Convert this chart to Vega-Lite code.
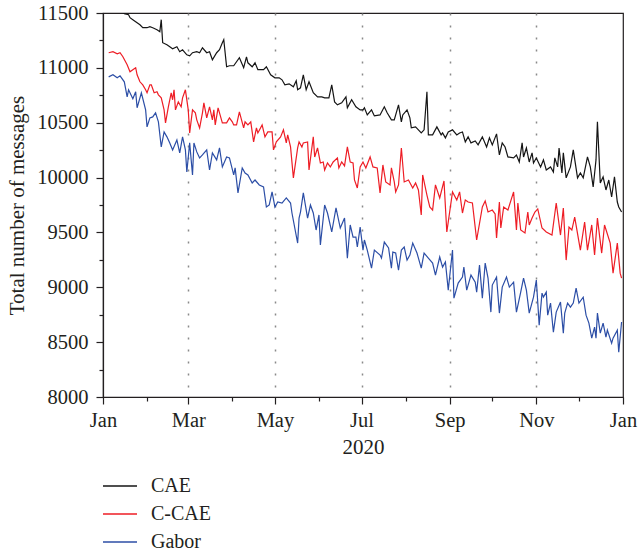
{
  "$schema": "https://vega.github.io/schema/vega-lite/v6.json",
  "autosize": "none",
  "width": 520,
  "height": 384,
  "padding": {"left": 103, "top": 13, "right": 15, "bottom": 155},
  "background": "white",
  "config": {
    "font": "Liberation Serif",
    "view": {"stroke": "#231f20", "strokeWidth": 1.2},
    "axis": {
      "domainColor": "#231f20",
      "tickColor": "#231f20",
      "labelColor": "#231f20",
      "titleColor": "#231f20",
      "labelFont": "Liberation Serif",
      "titleFont": "Liberation Serif",
      "titleFontWeight": "normal",
      "labelFontSize": 20.5,
      "titleFontSize": 21,
      "tickWidth": 1.2,
      "domainWidth": 1.2
    },
    "legend": {"labelFont": "Liberation Serif", "labelColor": "#231f20"}
  },
  "data": {
    "values": [
      {"series":"CAE","date":"2020-01-04","value":11620},{"series":"CAE","date":"2020-01-07","value":11590},{"series":"CAE","date":"2020-01-10","value":11560},{"series":"CAE","date":"2020-01-13","value":11530},{"series":"CAE","date":"2020-01-16","value":11494},{"series":"CAE","date":"2020-01-19","value":11484},{"series":"CAE","date":"2020-01-20","value":11457},{"series":"CAE","date":"2020-01-22","value":11439},{"series":"CAE","date":"2020-01-25","value":11411},{"series":"CAE","date":"2020-01-27","value":11393},{"series":"CAE","date":"2020-01-29","value":11366},{"series":"CAE","date":"2020-02-01","value":11366},{"series":"CAE","date":"2020-02-03","value":11375},{"series":"CAE","date":"2020-02-05","value":11366},{"series":"CAE","date":"2020-02-08","value":11348},{"series":"CAE","date":"2020-02-10","value":11330},{"series":"CAE","date":"2020-02-11","value":11439},{"series":"CAE","date":"2020-02-12","value":11229},{"series":"CAE","date":"2020-02-15","value":11210},{"series":"CAE","date":"2020-02-17","value":11192},{"series":"CAE","date":"2020-02-19","value":11174},{"series":"CAE","date":"2020-02-22","value":11192},{"series":"CAE","date":"2020-02-24","value":11147},{"series":"CAE","date":"2020-02-26","value":11165},{"series":"CAE","date":"2020-02-29","value":11119},{"series":"CAE","date":"2020-03-02","value":11110},{"series":"CAE","date":"2020-03-04","value":11138},{"series":"CAE","date":"2020-03-07","value":11147},{"series":"CAE","date":"2020-03-09","value":11138},{"series":"CAE","date":"2020-03-11","value":11183},{"series":"CAE","date":"2020-03-14","value":11138},{"series":"CAE","date":"2020-03-16","value":11147},{"series":"CAE","date":"2020-03-18","value":11074},{"series":"CAE","date":"2020-03-21","value":11138},{"series":"CAE","date":"2020-03-23","value":11165},{"series":"CAE","date":"2020-03-25","value":11229},{"series":"CAE","date":"2020-03-26","value":11256},{"series":"CAE","date":"2020-03-28","value":11010},{"series":"CAE","date":"2020-03-30","value":11019},{"series":"CAE","date":"2020-04-02","value":11019},{"series":"CAE","date":"2020-04-06","value":11092},{"series":"CAE","date":"2020-04-09","value":11001},{"series":"CAE","date":"2020-04-11","value":11101},{"series":"CAE","date":"2020-04-12","value":11046},{"series":"CAE","date":"2020-04-15","value":11010},{"series":"CAE","date":"2020-04-17","value":11046},{"series":"CAE","date":"2020-04-19","value":10983},{"series":"CAE","date":"2020-04-23","value":10983},{"series":"CAE","date":"2020-04-25","value":11010},{"series":"CAE","date":"2020-04-28","value":10937},{"series":"CAE","date":"2020-05-01","value":10909},{"series":"CAE","date":"2020-05-04","value":10909},{"series":"CAE","date":"2020-05-06","value":10891},{"series":"CAE","date":"2020-05-08","value":10845},{"series":"CAE","date":"2020-05-11","value":10854},{"series":"CAE","date":"2020-05-14","value":10827},{"series":"CAE","date":"2020-05-16","value":10882},{"series":"CAE","date":"2020-05-17","value":10800},{"series":"CAE","date":"2020-05-19","value":10818},{"series":"CAE","date":"2020-05-21","value":10937},{"series":"CAE","date":"2020-05-23","value":10800},{"series":"CAE","date":"2020-05-25","value":10873},{"series":"CAE","date":"2020-05-28","value":10773},{"series":"CAE","date":"2020-05-31","value":10736},{"series":"CAE","date":"2020-06-03","value":10736},{"series":"CAE","date":"2020-06-05","value":10727},{"series":"CAE","date":"2020-06-08","value":10727},{"series":"CAE","date":"2020-06-10","value":10845},{"series":"CAE","date":"2020-06-12","value":10690},{"series":"CAE","date":"2020-06-14","value":10663},{"series":"CAE","date":"2020-06-17","value":10681},{"series":"CAE","date":"2020-06-20","value":10736},{"series":"CAE","date":"2020-06-21","value":10636},{"series":"CAE","date":"2020-06-24","value":10709},{"series":"CAE","date":"2020-06-27","value":10645},{"series":"CAE","date":"2020-06-30","value":10617},{"series":"CAE","date":"2020-07-02","value":10617},{"series":"CAE","date":"2020-07-03","value":10636},{"series":"CAE","date":"2020-07-05","value":10571},{"series":"CAE","date":"2020-07-08","value":10617},{"series":"CAE","date":"2020-07-10","value":10562},{"series":"CAE","date":"2020-07-14","value":10571},{"series":"CAE","date":"2020-07-17","value":10645},{"series":"CAE","date":"2020-07-19","value":10590},{"series":"CAE","date":"2020-07-22","value":10526},{"series":"CAE","date":"2020-07-24","value":10526},{"series":"CAE","date":"2020-07-27","value":10663},{"series":"CAE","date":"2020-07-29","value":10508},{"series":"CAE","date":"2020-07-30","value":10571},{"series":"CAE","date":"2020-08-02","value":10617},{"series":"CAE","date":"2020-08-04","value":10544},{"series":"CAE","date":"2020-08-05","value":10453},{"series":"CAE","date":"2020-08-08","value":10462},{"series":"CAE","date":"2020-08-10","value":10435},{"series":"CAE","date":"2020-08-12","value":10407},{"series":"CAE","date":"2020-08-14","value":10435},{"series":"CAE","date":"2020-08-16","value":10782},{"series":"CAE","date":"2020-08-17","value":10389},{"series":"CAE","date":"2020-08-20","value":10389},{"series":"CAE","date":"2020-08-23","value":10462},{"series":"CAE","date":"2020-08-26","value":10389},{"series":"CAE","date":"2020-08-27","value":10407},{"series":"CAE","date":"2020-08-29","value":10362},{"series":"CAE","date":"2020-08-31","value":10416},{"series":"CAE","date":"2020-09-03","value":10435},{"series":"CAE","date":"2020-09-06","value":10389},{"series":"CAE","date":"2020-09-08","value":10407},{"series":"CAE","date":"2020-09-10","value":10416},{"series":"CAE","date":"2020-09-12","value":10325},{"series":"CAE","date":"2020-09-14","value":10371},{"series":"CAE","date":"2020-09-16","value":10316},{"series":"CAE","date":"2020-09-19","value":10334},{"series":"CAE","date":"2020-09-21","value":10298},{"series":"CAE","date":"2020-09-24","value":10371},{"series":"CAE","date":"2020-09-27","value":10279},{"series":"CAE","date":"2020-09-29","value":10362},{"series":"CAE","date":"2020-10-01","value":10298},{"series":"CAE","date":"2020-10-04","value":10398},{"series":"CAE","date":"2020-10-06","value":10206},{"series":"CAE","date":"2020-10-08","value":10316},{"series":"CAE","date":"2020-10-10","value":10279},{"series":"CAE","date":"2020-10-12","value":10188},{"series":"CAE","date":"2020-10-16","value":10179},{"series":"CAE","date":"2020-10-18","value":10206},{"series":"CAE","date":"2020-10-20","value":10142},{"series":"CAE","date":"2020-10-22","value":10316},{"series":"CAE","date":"2020-10-23","value":10188},{"series":"CAE","date":"2020-10-25","value":10270},{"series":"CAE","date":"2020-10-27","value":10142},{"series":"CAE","date":"2020-10-29","value":10225},{"series":"CAE","date":"2020-10-30","value":10133},{"series":"CAE","date":"2020-11-01","value":10179},{"series":"CAE","date":"2020-11-04","value":10097},{"series":"CAE","date":"2020-11-06","value":10161},{"series":"CAE","date":"2020-11-08","value":10069},{"series":"CAE","date":"2020-11-11","value":10097},{"series":"CAE","date":"2020-11-13","value":10051},{"series":"CAE","date":"2020-11-14","value":10179},{"series":"CAE","date":"2020-11-16","value":10097},{"series":"CAE","date":"2020-11-17","value":10270},{"series":"CAE","date":"2020-11-19","value":10042},{"series":"CAE","date":"2020-11-20","value":10225},{"series":"CAE","date":"2020-11-22","value":9997},{"series":"CAE","date":"2020-11-25","value":10097},{"series":"CAE","date":"2020-11-27","value":10252},{"series":"CAE","date":"2020-11-30","value":9997},{"series":"CAE","date":"2020-12-02","value":10042},{"series":"CAE","date":"2020-12-04","value":9997},{"series":"CAE","date":"2020-12-07","value":10188},{"series":"CAE","date":"2020-12-09","value":10097},{"series":"CAE","date":"2020-12-11","value":9914},{"series":"CAE","date":"2020-12-13","value":10161},{"series":"CAE","date":"2020-12-14","value":10508},{"series":"CAE","date":"2020-12-16","value":9951},{"series":"CAE","date":"2020-12-18","value":10006},{"series":"CAE","date":"2020-12-20","value":9887},{"series":"CAE","date":"2020-12-22","value":9978},{"series":"CAE","date":"2020-12-24","value":9823},{"series":"CAE","date":"2020-12-26","value":10006},{"series":"CAE","date":"2020-12-28","value":9777},{"series":"CAE","date":"2020-12-29","value":9732},{"series":"CAE","date":"2020-12-31","value":9686},
      {"series":"C-CAE","date":"2020-01-05","value":11138},{"series":"C-CAE","date":"2020-01-08","value":11147},{"series":"C-CAE","date":"2020-01-11","value":11128},{"series":"C-CAE","date":"2020-01-13","value":11138},{"series":"C-CAE","date":"2020-01-15","value":11101},{"series":"C-CAE","date":"2020-01-18","value":11028},{"series":"C-CAE","date":"2020-01-20","value":10964},{"series":"C-CAE","date":"2020-01-22","value":10983},{"series":"C-CAE","date":"2020-01-24","value":11001},{"series":"C-CAE","date":"2020-01-25","value":10937},{"series":"C-CAE","date":"2020-01-27","value":10873},{"series":"C-CAE","date":"2020-01-29","value":10845},{"series":"C-CAE","date":"2020-01-31","value":10800},{"series":"C-CAE","date":"2020-02-01","value":10773},{"series":"C-CAE","date":"2020-02-03","value":10845},{"series":"C-CAE","date":"2020-02-04","value":10845},{"series":"C-CAE","date":"2020-02-06","value":10773},{"series":"C-CAE","date":"2020-02-08","value":10782},{"series":"C-CAE","date":"2020-02-09","value":10754},{"series":"C-CAE","date":"2020-02-11","value":10727},{"series":"C-CAE","date":"2020-02-13","value":10617},{"series":"C-CAE","date":"2020-02-14","value":10499},{"series":"C-CAE","date":"2020-02-16","value":10645},{"series":"C-CAE","date":"2020-02-18","value":10773},{"series":"C-CAE","date":"2020-02-19","value":10709},{"series":"C-CAE","date":"2020-02-20","value":10800},{"series":"C-CAE","date":"2020-02-21","value":10617},{"series":"C-CAE","date":"2020-02-23","value":10690},{"series":"C-CAE","date":"2020-02-25","value":10645},{"series":"C-CAE","date":"2020-02-26","value":10727},{"series":"C-CAE","date":"2020-02-28","value":10800},{"series":"C-CAE","date":"2020-03-01","value":10617},{"series":"C-CAE","date":"2020-03-02","value":10407},{"series":"C-CAE","date":"2020-03-04","value":10617},{"series":"C-CAE","date":"2020-03-06","value":10590},{"series":"C-CAE","date":"2020-03-07","value":10526},{"series":"C-CAE","date":"2020-03-09","value":10453},{"series":"C-CAE","date":"2020-03-11","value":10590},{"series":"C-CAE","date":"2020-03-12","value":10681},{"series":"C-CAE","date":"2020-03-14","value":10544},{"series":"C-CAE","date":"2020-03-16","value":10645},{"series":"C-CAE","date":"2020-03-18","value":10526},{"series":"C-CAE","date":"2020-03-19","value":10617},{"series":"C-CAE","date":"2020-03-20","value":10480},{"series":"C-CAE","date":"2020-03-22","value":10636},{"series":"C-CAE","date":"2020-03-24","value":10544},{"series":"C-CAE","date":"2020-03-25","value":10499},{"series":"C-CAE","date":"2020-03-28","value":10499},{"series":"C-CAE","date":"2020-03-30","value":10544},{"series":"C-CAE","date":"2020-04-01","value":10508},{"series":"C-CAE","date":"2020-04-02","value":10480},{"series":"C-CAE","date":"2020-04-04","value":10480},{"series":"C-CAE","date":"2020-04-06","value":10599},{"series":"C-CAE","date":"2020-04-09","value":10453},{"series":"C-CAE","date":"2020-04-10","value":10508},{"series":"C-CAE","date":"2020-04-12","value":10480},{"series":"C-CAE","date":"2020-04-14","value":10508},{"series":"C-CAE","date":"2020-04-16","value":10325},{"series":"C-CAE","date":"2020-04-18","value":10453},{"series":"C-CAE","date":"2020-04-19","value":10407},{"series":"C-CAE","date":"2020-04-22","value":10480},{"series":"C-CAE","date":"2020-04-24","value":10371},{"series":"C-CAE","date":"2020-04-26","value":10416},{"series":"C-CAE","date":"2020-04-29","value":10416},{"series":"C-CAE","date":"2020-04-30","value":10252},{"series":"C-CAE","date":"2020-05-02","value":10325},{"series":"C-CAE","date":"2020-05-05","value":10371},{"series":"C-CAE","date":"2020-05-07","value":10435},{"series":"C-CAE","date":"2020-05-09","value":10316},{"series":"C-CAE","date":"2020-05-10","value":10389},{"series":"C-CAE","date":"2020-05-12","value":10279},{"series":"C-CAE","date":"2020-05-14","value":9997},{"series":"C-CAE","date":"2020-05-17","value":10270},{"series":"C-CAE","date":"2020-05-18","value":10325},{"series":"C-CAE","date":"2020-05-20","value":10279},{"series":"C-CAE","date":"2020-05-21","value":10316},{"series":"C-CAE","date":"2020-05-24","value":10325},{"series":"C-CAE","date":"2020-05-25","value":10069},{"series":"C-CAE","date":"2020-05-28","value":10371},{"series":"C-CAE","date":"2020-05-29","value":10188},{"series":"C-CAE","date":"2020-05-31","value":10270},{"series":"C-CAE","date":"2020-06-02","value":10133},{"series":"C-CAE","date":"2020-06-04","value":10142},{"series":"C-CAE","date":"2020-06-05","value":10069},{"series":"C-CAE","date":"2020-06-07","value":10133},{"series":"C-CAE","date":"2020-06-09","value":10097},{"series":"C-CAE","date":"2020-06-11","value":10142},{"series":"C-CAE","date":"2020-06-14","value":10179},{"series":"C-CAE","date":"2020-06-15","value":10088},{"series":"C-CAE","date":"2020-06-17","value":10142},{"series":"C-CAE","date":"2020-06-19","value":10106},{"series":"C-CAE","date":"2020-06-21","value":10279},{"series":"C-CAE","date":"2020-06-23","value":10142},{"series":"C-CAE","date":"2020-06-25","value":10133},{"series":"C-CAE","date":"2020-06-26","value":9978},{"series":"C-CAE","date":"2020-06-28","value":9905},{"series":"C-CAE","date":"2020-06-30","value":10097},{"series":"C-CAE","date":"2020-07-02","value":10142},{"series":"C-CAE","date":"2020-07-04","value":10088},{"series":"C-CAE","date":"2020-07-07","value":10188},{"series":"C-CAE","date":"2020-07-09","value":10097},{"series":"C-CAE","date":"2020-07-12","value":10088},{"series":"C-CAE","date":"2020-07-14","value":9860},{"series":"C-CAE","date":"2020-07-16","value":10115},{"series":"C-CAE","date":"2020-07-18","value":9960},{"series":"C-CAE","date":"2020-07-21","value":9933},{"series":"C-CAE","date":"2020-07-22","value":10088},{"series":"C-CAE","date":"2020-07-24","value":9960},{"series":"C-CAE","date":"2020-07-25","value":9869},{"series":"C-CAE","date":"2020-07-27","value":9933},{"series":"C-CAE","date":"2020-07-29","value":10270},{"series":"C-CAE","date":"2020-07-31","value":9960},{"series":"C-CAE","date":"2020-08-03","value":9978},{"series":"C-CAE","date":"2020-08-06","value":9905},{"series":"C-CAE","date":"2020-08-08","value":9951},{"series":"C-CAE","date":"2020-08-10","value":9887},{"series":"C-CAE","date":"2020-08-12","value":9659},{"series":"C-CAE","date":"2020-08-13","value":10024},{"series":"C-CAE","date":"2020-08-16","value":9841},{"series":"C-CAE","date":"2020-08-18","value":9732},{"series":"C-CAE","date":"2020-08-20","value":9704},{"series":"C-CAE","date":"2020-08-22","value":9933},{"series":"C-CAE","date":"2020-08-25","value":9814},{"series":"C-CAE","date":"2020-08-28","value":9969},{"series":"C-CAE","date":"2020-08-30","value":9504},{"series":"C-CAE","date":"2020-09-03","value":9869},{"series":"C-CAE","date":"2020-09-06","value":9796},{"series":"C-CAE","date":"2020-09-08","value":9869},{"series":"C-CAE","date":"2020-09-10","value":9677},{"series":"C-CAE","date":"2020-09-12","value":9796},{"series":"C-CAE","date":"2020-09-14","value":9777},{"series":"C-CAE","date":"2020-09-17","value":9768},{"series":"C-CAE","date":"2020-09-20","value":9431},{"series":"C-CAE","date":"2020-09-24","value":9732},{"series":"C-CAE","date":"2020-09-26","value":9787},{"series":"C-CAE","date":"2020-09-28","value":9686},{"series":"C-CAE","date":"2020-10-01","value":9704},{"series":"C-CAE","date":"2020-10-03","value":9668},{"series":"C-CAE","date":"2020-10-04","value":9449},{"series":"C-CAE","date":"2020-10-06","value":9777},{"series":"C-CAE","date":"2020-10-07","value":9540},{"series":"C-CAE","date":"2020-10-09","value":9732},{"series":"C-CAE","date":"2020-10-12","value":9704},{"series":"C-CAE","date":"2020-10-16","value":9869},{"series":"C-CAE","date":"2020-10-18","value":9522},{"series":"C-CAE","date":"2020-10-19","value":9768},{"series":"C-CAE","date":"2020-10-21","value":9522},{"series":"C-CAE","date":"2020-10-24","value":9495},{"series":"C-CAE","date":"2020-10-26","value":9686},{"series":"C-CAE","date":"2020-10-27","value":9568},{"series":"C-CAE","date":"2020-10-29","value":9631},{"series":"C-CAE","date":"2020-10-31","value":9686},{"series":"C-CAE","date":"2020-11-02","value":9714},{"series":"C-CAE","date":"2020-11-05","value":9540},{"series":"C-CAE","date":"2020-11-08","value":9504},{"series":"C-CAE","date":"2020-11-12","value":9476},{"series":"C-CAE","date":"2020-11-15","value":9768},{"series":"C-CAE","date":"2020-11-18","value":9476},{"series":"C-CAE","date":"2020-11-20","value":9723},{"series":"C-CAE","date":"2020-11-22","value":9248},{"series":"C-CAE","date":"2020-11-24","value":9549},{"series":"C-CAE","date":"2020-11-26","value":9522},{"series":"C-CAE","date":"2020-11-28","value":9640},{"series":"C-CAE","date":"2020-12-02","value":9339},{"series":"C-CAE","date":"2020-12-05","value":9595},{"series":"C-CAE","date":"2020-12-07","value":9339},{"series":"C-CAE","date":"2020-12-10","value":9568},{"series":"C-CAE","date":"2020-12-12","value":9294},{"series":"C-CAE","date":"2020-12-14","value":9631},{"series":"C-CAE","date":"2020-12-17","value":9312},{"series":"C-CAE","date":"2020-12-19","value":9568},{"series":"C-CAE","date":"2020-12-23","value":9403},{"series":"C-CAE","date":"2020-12-25","value":9129},{"series":"C-CAE","date":"2020-12-28","value":9403},{"series":"C-CAE","date":"2020-12-30","value":9129},{"series":"C-CAE","date":"2020-12-31","value":9084},
      {"series":"Gabor","date":"2020-01-05","value":10918},{"series":"Gabor","date":"2020-01-08","value":10937},{"series":"Gabor","date":"2020-01-11","value":10909},{"series":"Gabor","date":"2020-01-13","value":10927},{"series":"Gabor","date":"2020-01-16","value":10873},{"series":"Gabor","date":"2020-01-18","value":10736},{"series":"Gabor","date":"2020-01-19","value":10800},{"series":"Gabor","date":"2020-01-22","value":10718},{"series":"Gabor","date":"2020-01-24","value":10782},{"series":"Gabor","date":"2020-01-25","value":10636},{"series":"Gabor","date":"2020-01-28","value":10773},{"series":"Gabor","date":"2020-01-31","value":10617},{"series":"Gabor","date":"2020-02-01","value":10462},{"series":"Gabor","date":"2020-02-03","value":10544},{"series":"Gabor","date":"2020-02-05","value":10553},{"series":"Gabor","date":"2020-02-07","value":10590},{"series":"Gabor","date":"2020-02-09","value":10508},{"series":"Gabor","date":"2020-02-11","value":10279},{"series":"Gabor","date":"2020-02-13","value":10416},{"series":"Gabor","date":"2020-02-15","value":10371},{"series":"Gabor","date":"2020-02-17","value":10316},{"series":"Gabor","date":"2020-02-19","value":10252},{"series":"Gabor","date":"2020-02-22","value":10343},{"series":"Gabor","date":"2020-02-24","value":10225},{"series":"Gabor","date":"2020-02-26","value":10371},{"series":"Gabor","date":"2020-02-28","value":10252},{"series":"Gabor","date":"2020-02-29","value":10051},{"series":"Gabor","date":"2020-03-02","value":10316},{"series":"Gabor","date":"2020-03-04","value":10024},{"series":"Gabor","date":"2020-03-05","value":10316},{"series":"Gabor","date":"2020-03-07","value":10234},{"series":"Gabor","date":"2020-03-09","value":10179},{"series":"Gabor","date":"2020-03-11","value":10206},{"series":"Gabor","date":"2020-03-14","value":10252},{"series":"Gabor","date":"2020-03-16","value":10069},{"series":"Gabor","date":"2020-03-18","value":10225},{"series":"Gabor","date":"2020-03-21","value":10161},{"series":"Gabor","date":"2020-03-23","value":10270},{"series":"Gabor","date":"2020-03-25","value":10097},{"series":"Gabor","date":"2020-03-28","value":10188},{"series":"Gabor","date":"2020-03-30","value":10179},{"series":"Gabor","date":"2020-04-02","value":10024},{"series":"Gabor","date":"2020-04-03","value":10088},{"series":"Gabor","date":"2020-04-05","value":9860},{"series":"Gabor","date":"2020-04-08","value":10088},{"series":"Gabor","date":"2020-04-10","value":10042},{"series":"Gabor","date":"2020-04-12","value":10024},{"series":"Gabor","date":"2020-04-15","value":9951},{"series":"Gabor","date":"2020-04-17","value":9978},{"series":"Gabor","date":"2020-04-20","value":9933},{"series":"Gabor","date":"2020-04-23","value":9914},{"series":"Gabor","date":"2020-04-25","value":9732},{"series":"Gabor","date":"2020-04-27","value":9750},{"series":"Gabor","date":"2020-04-29","value":9869},{"series":"Gabor","date":"2020-05-01","value":9732},{"series":"Gabor","date":"2020-05-03","value":9777},{"series":"Gabor","date":"2020-05-06","value":9768},{"series":"Gabor","date":"2020-05-09","value":9814},{"series":"Gabor","date":"2020-05-12","value":9768},{"series":"Gabor","date":"2020-05-13","value":9677},{"series":"Gabor","date":"2020-05-17","value":9403},{"series":"Gabor","date":"2020-05-18","value":9631},{"series":"Gabor","date":"2020-05-19","value":9686},{"series":"Gabor","date":"2020-05-21","value":9860},{"series":"Gabor","date":"2020-05-24","value":9631},{"series":"Gabor","date":"2020-05-26","value":9750},{"series":"Gabor","date":"2020-05-28","value":9677},{"series":"Gabor","date":"2020-05-30","value":9522},{"series":"Gabor","date":"2020-06-01","value":9659},{"series":"Gabor","date":"2020-06-02","value":9385},{"series":"Gabor","date":"2020-06-05","value":9750},{"series":"Gabor","date":"2020-06-07","value":9677},{"series":"Gabor","date":"2020-06-10","value":9504},{"series":"Gabor","date":"2020-06-13","value":9723},{"series":"Gabor","date":"2020-06-16","value":9540},{"series":"Gabor","date":"2020-06-19","value":9631},{"series":"Gabor","date":"2020-06-21","value":9266},{"series":"Gabor","date":"2020-06-23","value":9568},{"series":"Gabor","date":"2020-06-25","value":9458},{"series":"Gabor","date":"2020-06-27","value":9458},{"series":"Gabor","date":"2020-06-28","value":9367},{"series":"Gabor","date":"2020-06-30","value":9549},{"series":"Gabor","date":"2020-07-02","value":9339},{"series":"Gabor","date":"2020-07-03","value":9431},{"series":"Gabor","date":"2020-07-05","value":9339},{"series":"Gabor","date":"2020-07-08","value":9175},{"series":"Gabor","date":"2020-07-10","value":9339},{"series":"Gabor","date":"2020-07-14","value":9294},{"series":"Gabor","date":"2020-07-15","value":9266},{"series":"Gabor","date":"2020-07-17","value":9412},{"series":"Gabor","date":"2020-07-20","value":9358},{"series":"Gabor","date":"2020-07-22","value":9175},{"series":"Gabor","date":"2020-07-23","value":9321},{"series":"Gabor","date":"2020-07-25","value":9312},{"series":"Gabor","date":"2020-07-27","value":9157},{"series":"Gabor","date":"2020-07-29","value":9339},{"series":"Gabor","date":"2020-07-31","value":9367},{"series":"Gabor","date":"2020-08-02","value":9248},{"series":"Gabor","date":"2020-08-04","value":9294},{"series":"Gabor","date":"2020-08-06","value":9403},{"series":"Gabor","date":"2020-08-09","value":9312},{"series":"Gabor","date":"2020-08-12","value":9175},{"series":"Gabor","date":"2020-08-14","value":9312},{"series":"Gabor","date":"2020-08-17","value":9266},{"series":"Gabor","date":"2020-08-20","value":9221},{"series":"Gabor","date":"2020-08-22","value":9111},{"series":"Gabor","date":"2020-08-25","value":9276},{"series":"Gabor","date":"2020-08-27","value":9184},{"series":"Gabor","date":"2020-08-29","value":9230},{"series":"Gabor","date":"2020-08-31","value":8974},{"series":"Gabor","date":"2020-09-03","value":9339},{"series":"Gabor","date":"2020-09-04","value":8901},{"series":"Gabor","date":"2020-09-07","value":9038},{"series":"Gabor","date":"2020-09-10","value":9093},{"series":"Gabor","date":"2020-09-11","value":9184},{"series":"Gabor","date":"2020-09-13","value":8974},{"series":"Gabor","date":"2020-09-16","value":9111},{"series":"Gabor","date":"2020-09-19","value":9047},{"series":"Gabor","date":"2020-09-20","value":8956},{"series":"Gabor","date":"2020-09-22","value":9203},{"series":"Gabor","date":"2020-09-24","value":8901},{"series":"Gabor","date":"2020-09-26","value":9221},{"series":"Gabor","date":"2020-09-28","value":9084},{"series":"Gabor","date":"2020-09-30","value":8774},{"series":"Gabor","date":"2020-10-01","value":9020},{"series":"Gabor","date":"2020-10-04","value":9093},{"series":"Gabor","date":"2020-10-06","value":8765},{"series":"Gabor","date":"2020-10-08","value":9002},{"series":"Gabor","date":"2020-10-11","value":9093},{"series":"Gabor","date":"2020-10-13","value":9002},{"series":"Gabor","date":"2020-10-16","value":9047},{"series":"Gabor","date":"2020-10-18","value":8774},{"series":"Gabor","date":"2020-10-21","value":8956},{"series":"Gabor","date":"2020-10-23","value":9084},{"series":"Gabor","date":"2020-10-25","value":8974},{"series":"Gabor","date":"2020-10-27","value":8765},{"series":"Gabor","date":"2020-10-30","value":8910},{"series":"Gabor","date":"2020-11-01","value":9066},{"series":"Gabor","date":"2020-11-03","value":8655},{"series":"Gabor","date":"2020-11-05","value":8947},{"series":"Gabor","date":"2020-11-06","value":8910},{"series":"Gabor","date":"2020-11-08","value":8956},{"series":"Gabor","date":"2020-11-09","value":8746},{"series":"Gabor","date":"2020-11-11","value":8856},{"series":"Gabor","date":"2020-11-13","value":8591},{"series":"Gabor","date":"2020-11-15","value":8774},{"series":"Gabor","date":"2020-11-18","value":8865},{"series":"Gabor","date":"2020-11-20","value":8582},{"series":"Gabor","date":"2020-11-21","value":8765},{"series":"Gabor","date":"2020-11-23","value":8856},{"series":"Gabor","date":"2020-11-25","value":8819},{"series":"Gabor","date":"2020-11-27","value":8856},{"series":"Gabor","date":"2020-11-29","value":8993},{"series":"Gabor","date":"2020-12-01","value":8856},{"series":"Gabor","date":"2020-12-04","value":8910},{"series":"Gabor","date":"2020-12-06","value":8746},{"series":"Gabor","date":"2020-12-08","value":8673},{"series":"Gabor","date":"2020-12-10","value":8536},{"series":"Gabor","date":"2020-12-12","value":8637},{"series":"Gabor","date":"2020-12-13","value":8536},{"series":"Gabor","date":"2020-12-14","value":8765},{"series":"Gabor","date":"2020-12-16","value":8582},{"series":"Gabor","date":"2020-12-18","value":8673},{"series":"Gabor","date":"2020-12-20","value":8545},{"series":"Gabor","date":"2020-12-21","value":8609},{"series":"Gabor","date":"2020-12-24","value":8491},{"series":"Gabor","date":"2020-12-25","value":8536},{"series":"Gabor","date":"2020-12-28","value":8609},{"series":"Gabor","date":"2020-12-29","value":8408},{"series":"Gabor","date":"2020-12-31","value":8683}
    ]
  },
  "mark": {"type": "line", "strokeWidth": 1.2, "clip": true},
  "encoding": {
    "x": {
      "field": "date",
      "type": "temporal",
      "title": "2020",
      "scale": {
        "type": "utc",
        "domain": [
          {"year": 2020, "month": 1, "date": 1, "utc": true},
          {"year": 2021, "month": 1, "date": 1, "utc": true}
        ]
      },
      "axis": {
        "values": [
          {"year": 2020, "month": 1, "date": 1, "utc": true},
          {"year": 2020, "month": 2, "date": 1, "utc": true},
          {"year": 2020, "month": 3, "date": 1, "utc": true},
          {"year": 2020, "month": 4, "date": 1, "utc": true},
          {"year": 2020, "month": 5, "date": 1, "utc": true},
          {"year": 2020, "month": 6, "date": 1, "utc": true},
          {"year": 2020, "month": 7, "date": 1, "utc": true},
          {"year": 2020, "month": 8, "date": 1, "utc": true},
          {"year": 2020, "month": 9, "date": 1, "utc": true},
          {"year": 2020, "month": 10, "date": 1, "utc": true},
          {"year": 2020, "month": 11, "date": 1, "utc": true},
          {"year": 2020, "month": 12, "date": 1, "utc": true},
          {"year": 2021, "month": 1, "date": 1, "utc": true}
        ],
        "labelExpr": "utcmonth(datum.value) % 2 == 0 ? utcFormat(datum.value, '%b') : ''",
        "tickSize": {"condition": {"test": "utcmonth(datum.value) % 2 == 0", "value": 7}, "value": 4},
        "labelPadding": 6,
        "labelFlush": false,
        "labelOverlap": false,
        "grid": true,
        "gridColor": "#8a8a8a",
        "gridWidth": 1.5,
        "gridDash": [2, 10],
        "gridOpacity": {"condition": {"test": "utcmonth(datum.value) % 2 == 0 && utcmonth(datum.value) != 0", "value": 1}, "value": 0},
        "titlePadding": 6
      }
    },
    "y": {
      "field": "value",
      "type": "quantitative",
      "title": "Total number of messages",
      "scale": {"domain": [8000, 11500], "nice": false, "zero": false},
      "axis": {
        "values": [8000, 8250, 8500, 8750, 9000, 9250, 9500, 9750, 10000, 10250, 10500, 10750, 11000, 11250, 11500],
        "format": "d",
        "labelExpr": "datum.value % 500 == 0 ? datum.label : ''",
        "tickSize": {"condition": {"test": "datum.value % 500 == 0", "value": 7}, "value": 4},
        "labelPadding": 8,
        "labelOverlap": false,
        "labelFlush": false,
        "grid": false,
        "titlePadding": 9
      }
    },
    "color": {
      "field": "series",
      "type": "nominal",
      "scale": {"domain": ["CAE", "C-CAE", "Gabor"], "range": ["#151515", "#ee1d25", "#2c4ea6"]},
      "legend": {
        "orient": "none",
        "legendX": -1,
        "legendY": 455,
        "direction": "vertical",
        "title": null,
        "padding": 0,
        "symbolType": "stroke",
        "symbolSize": 1156,
        "symbolStrokeWidth": 1.5,
        "labelFontSize": 20,
        "labelOffset": 13,
        "rowPadding": -7.5
      }
    }
  }
}
